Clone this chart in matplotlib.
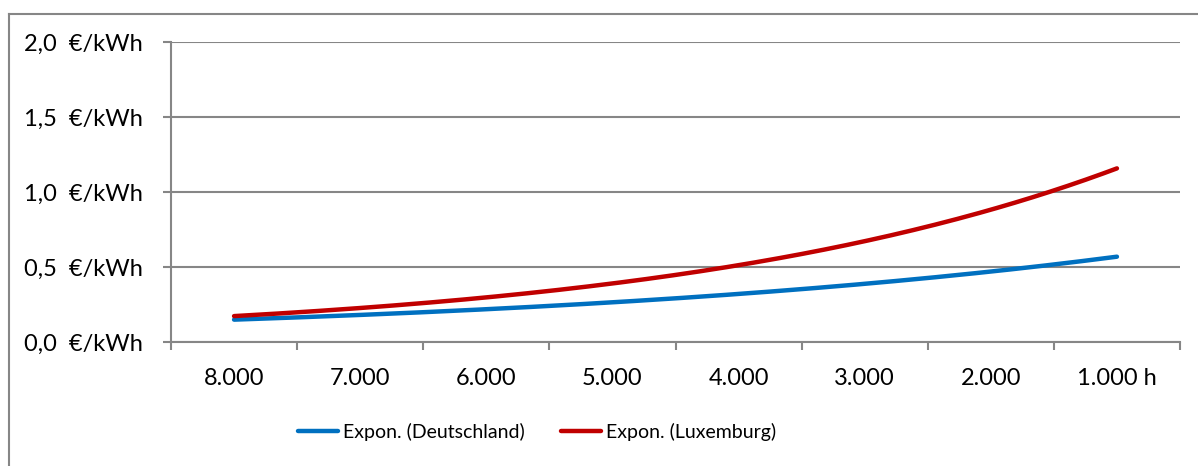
import numpy as np
import matplotlib
matplotlib.use("Agg")
import matplotlib.pyplot as plt
from matplotlib.lines import Line2D

plt.rcParams['font.family'] = ['Lato', 'DejaVu Sans']

# Hours of use (categories) and observed prices per kWh
categories = ["8.000", "7.000", "6.000", "5.000", "4.000", "3.000", "2.000", "1.000 h"]
deutschland = [0.15, 0.18, 0.22, 0.26, 0.32, 0.39, 0.47, 0.57]
luxemburg = [0.17, 0.23, 0.30, 0.39, 0.51, 0.67, 0.88, 1.16]
series_names = ["Expon. (Deutschland)", "Expon. (Luxemburg)"]
series_colors = ["#0070C0", "#C00000"]
y_ticks = [0.0, 0.5, 1.0, 1.5, 2.0]

W, H = 1198, 466
fig = plt.figure(figsize=(W / 100, H / 100), dpi=100)
grey = "#868686"

# outer chart frame (left and top edges)
fig.add_artist(Line2D([8.5 / W, 8.5 / W], [0, 1 - 13.5 / H], transform=fig.transFigure,
                      color=grey, lw=1.5))
fig.add_artist(Line2D([8.5 / W, 1], [1 - 13.5 / H, 1 - 13.5 / H], transform=fig.transFigure,
                      color=grey, lw=1.5))

ax = fig.add_axes([171 / W, 1 - 342 / H, (1180 - 171) / W, 300 / H])

x = np.arange(len(categories))


def exp_trend(xs, ys, n=200):
    # exponential trendline fitted by least squares in log space
    b, ln_a = np.polyfit(xs, np.log(ys), 1)
    xx = np.linspace(xs[0], xs[-1], n)
    return xx, np.exp(ln_a) * np.exp(b * xx)


for vals, name, col in zip([deutschland, luxemburg], series_names, series_colors):
    xx, yy = exp_trend(x, np.array(vals))
    ax.plot(xx, yy, color=col, lw=3.2, solid_capstyle='round', label=name, zorder=3)

ax.set_xlim(-0.5, len(categories) - 0.5)
ax.set_ylim(0, 2.0)

ax.set_yticks(y_ticks)
ax.set_yticklabels([f"{v:.1f}".replace(".", ",") + "  €/kWh" for v in y_ticks])
ax.yaxis.grid(True, color=grey, lw=1.5)
ax.set_axisbelow(True)

ax.set_xticks(x)
ax.set_xticklabels(categories)
ax.set_xticks(np.arange(-0.5, len(categories)), minor=True)
ax.tick_params(axis='x', which='major', length=0, pad=19, labelsize=17, colors='black')
ax.tick_params(axis='x', which='minor', length=6, width=1.5, color=grey, direction='out')
ax.tick_params(axis='y', length=6, width=1.5, color=grey, pad=14, labelsize=17)

for s in ['top', 'right']:
    ax.spines[s].set_visible(False)
for s in ['left', 'bottom']:
    ax.spines[s].set_color(grey)
    ax.spines[s].set_linewidth(1.5)

leg = fig.legend(loc='center', bbox_to_anchor=(537 / W, 1 - 432 / H), ncol=2, frameon=False,
                 fontsize=14, handlelength=2.06, handletextpad=0.25, columnspacing=1.85)

fig.savefig("out.png", dpi=100)
